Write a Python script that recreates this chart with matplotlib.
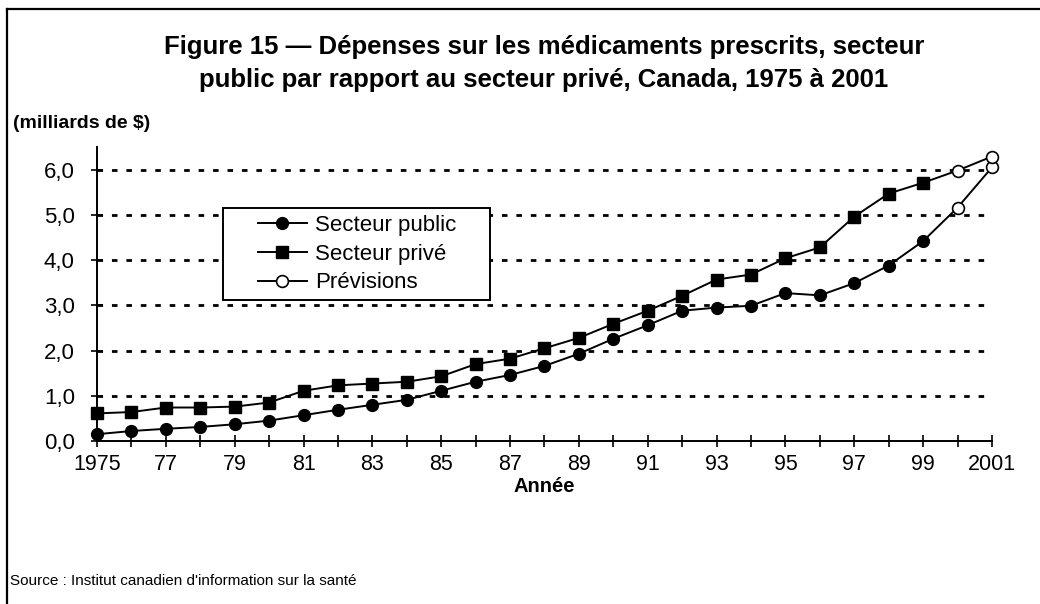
import matplotlib
matplotlib.use("Agg")
import matplotlib.pyplot as plt
from matplotlib.lines import Line2D
from matplotlib.patches import Rectangle

plt.rcParams['font.family'] = ['Liberation Sans', 'DejaVu Sans']

# données (milliards de $)
years = list(range(1975, 2000))
public = [0.15, 0.22, 0.27, 0.31, 0.37, 0.45, 0.57, 0.69, 0.80, 0.91,
          1.11, 1.31, 1.46, 1.66, 1.93, 2.26, 2.56, 2.88, 2.95, 2.99,
          3.27, 3.22, 3.49, 3.88, 4.42]
private = [0.61, 0.64, 0.74, 0.74, 0.76, 0.85, 1.11, 1.23, 1.27, 1.31,
           1.43, 1.70, 1.82, 2.05, 2.28, 2.59, 2.88, 3.21, 3.57, 3.68,
           4.04, 4.28, 4.96, 5.47, 5.71]
fc_years = [2000, 2001]
fc_public = [5.16, 6.05]
fc_private = [5.98, 6.29]

tick_years = list(range(1975, 2002, 2))
tick_labels = ['1975'] + ["%02d" % (y % 100) for y in tick_years[1:-1]] + ['2001']
y_ticks = [0, 1, 2, 3, 4, 5, 6]

fig = plt.figure(figsize=(10.4, 6.04), dpi=100)
ax = fig.add_axes([0.0933, 0.2699, 0.8605, 0.4867])

lw = 1.4
ms = 8.5
ax.plot(years, public, '-o', color='black', lw=lw, ms=ms, clip_on=False, zorder=3)
ax.plot(years, private, '-s', color='black', lw=lw, ms=ms - 0.3, clip_on=False, zorder=3)
# prévisions : relie la dernière année observée aux années prévues
ax.plot([years[-1]] + fc_years, [public[-1]] + fc_public, '-o', color='black', lw=lw,
        ms=ms, mfc='white', mec='black', mew=1.2, markevery=[1, 2], clip_on=False, zorder=3)
ax.plot([years[-1]] + fc_years, [private[-1]] + fc_private, '-o', color='black', lw=lw,
        ms=ms, mfc='white', mec='black', mew=1.2, markevery=[1, 2], clip_on=False, zorder=3)

ax.set_xlim(1975, 2001)
ax.set_ylim(0, 6.5)
ax.set_xticks(range(1975, 2002))
ax.set_xticklabels([tick_labels[tick_years.index(y)] if y in tick_years else '' for y in range(1975, 2002)])
ax.set_yticks(y_ticks)
ax.set_yticklabels([("%.1f" % v).replace('.', ',') for v in y_ticks])

for v in y_ticks[1:]:
    ax.axhline(v, color='black', lw=2, linestyle=(0, (2, 3.2)), zorder=1)

ax.spines['top'].set_visible(False)
ax.spines['right'].set_visible(False)
ax.spines['left'].set_linewidth(1.4)
ax.spines['bottom'].set_linewidth(1.4)
ax.tick_params(axis='x', direction='inout', length=9, width=1.2, labelsize=15.5, pad=5)
ax.tick_params(axis='y', direction='inout', length=8, width=1.2, labelsize=16, pad=12)

ax.set_xlabel('Année', fontsize=14.5, fontweight='bold', labelpad=1)

# légende : cadre dessiné à part pour garder les marges larges
ax.add_patch(Rectangle((0.1404, 0.4796), 0.2987, 0.3119, transform=ax.transAxes,
                       facecolor='white', edgecolor='black', lw=1.4, zorder=4))
handles = [
    Line2D([], [], color='black', lw=lw, marker='o', ms=ms),
    Line2D([], [], color='black', lw=lw, marker='s', ms=ms - 0.3),
    Line2D([], [], color='black', lw=lw, marker='o', ms=ms, mfc='white', mew=1.2),
]
leg = ax.legend(handles, ['Secteur public', 'Secteur privé', 'Prévisions'],
                loc='upper left', bbox_to_anchor=(0.1799, 0.768), borderaxespad=0,
                fontsize=16, frameon=False, handlelength=2.2,
                handletextpad=0.36, labelspacing=0.34, borderpad=0)
leg.set_zorder(5)

fig.text(0.523, 0.922, 'Figure 15 — Dépenses sur les médicaments prescrits, secteur',
         ha='center', va='center', fontsize=18.5, fontweight='bold')
fig.text(0.523, 0.867, 'public par rapport au secteur privé, Canada, 1975 à 2001',
         ha='center', va='center', fontsize=18.5, fontweight='bold')
fig.text(0.0125, 0.795, '(milliards de $)', ha='left', va='center',
         fontsize=14, fontweight='bold')
fig.text(0.0095, 0.038, "Source : Institut canadien d'information sur la santé",
         ha='left', va='center', fontsize=11)

# cadre de la figure (haut et gauche)
fig.add_artist(Line2D([0.0065, 1.0], [0.985, 0.985], color='black', lw=1.6, transform=fig.transFigure))
fig.add_artist(Line2D([0.0065, 0.0065], [0.0, 0.985], color='black', lw=1.6, transform=fig.transFigure))

fig.savefig('out.png', dpi=100)
